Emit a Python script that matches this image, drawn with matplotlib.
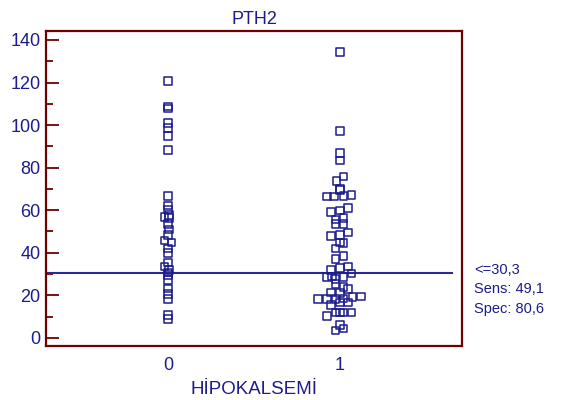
import matplotlib.pyplot as plt
import numpy as np

plt.rcParams['font.family'] = ['Liberation Sans', 'DejaVu Sans']

# group 0 (no hypocalcemia)
g0_vals = [120.7, 108.7, 107.7, 101, 98.5, 95, 88.3, 66.8, 62.3, 60.4, 57.8, 56.8, 56.2,
           53.5, 51, 48.4, 45.7, 44.8, 42.1, 39.8, 35.4, 33.5, 32, 30.8, 29.6, 27.2,
           23.3, 20.5, 18.2, 10.8, 8.8]
g0_jit = [0, 0, 0, 0, 0, 0, 0, 0, 0, 0, 0.006, -0.02, 0.006, 0, 0.006, 0, -0.02, 0.02,
          0, 0, 0, -0.02, 0.006, 0, 0, 0, 0, 0, 0, 0, 0]

# group 1 (hypocalcemia)
g1_vals = [134.2, 97.2, 87, 83.3, 75.8, 73.7, 70, 69.5, 66.4, 66.4, 66.7, 67.2,
           59.3, 59.8, 60.9, 55.7, 56.2, 53.4, 53.4, 47.9, 48.4, 49.5, 44.8, 44.5,
           42.1, 38.5, 37, 32, 32.8, 33.5, 28.5, 27.6, 28.5, 30.3, 28.8, 25.4, 23.8,
           22.9, 21.3, 21, 18.3, 18.3, 18.3, 18.6, 19.1, 19.4, 15.5, 16.6, 16.6,
           10.3, 11.9, 11.9, 11.9, 11.9, 6.1, 4.5, 3.4]
g1_jit = [0, 0, 0, 0, 0.02, -0.02, 0, 0, -0.077, -0.033, 0.02, 0.068,
          -0.052, 0, 0.048, -0.025, 0.02, -0.025, 0.02, -0.052, 0, 0.048, 0, 0.02,
          -0.025, 0.02, -0.025, -0.052, 0, 0.048, -0.077, -0.025, 0.02, 0.068, -0.045, -0.025, 0.02,
          0.048, -0.052, 0, -0.126, -0.077, -0.025, 0.02, 0.074, 0.122, -0.052, 0, 0.048,
          -0.077, -0.025, 0, 0.02, 0.068, 0, 0.02, -0.025]

cutoff = 30.3
sens = '49,1'
spec = '80,6'

navy = '#1c1c8a'
frame = '#700000'

fig = plt.figure(figsize=(5.67, 4.0), dpi=100)
ax = fig.add_axes([0.0811, 0.135, 0.7337, 0.7875])

ax.scatter(np.zeros(len(g0_vals)) + np.array(g0_jit), g0_vals, marker='s', s=30,
           facecolors='none', edgecolors=navy, linewidths=1.1, zorder=3)
ax.scatter(np.ones(len(g1_vals)) + np.array(g1_jit), g1_vals, marker='s', s=30,
           facecolors='none', edgecolors=navy, linewidths=1.1, zorder=3)

ax.plot([-0.71, 1.65], [cutoff, cutoff], color='#2a2a90', lw=1.5, zorder=2, clip_on=False)

ax.set_xlim(-0.71, 1.71)
ax.set_ylim(-3.8, 144.2)
ax.set_xticks([0, 1])
ax.set_yticks(range(0, 141, 20))
ax.set_yticks(range(10, 141, 20), minor=True)
ax.tick_params(axis='x', length=0, labelsize=13, labelcolor=navy, pad=8)
ax.tick_params(axis='y', which='major', direction='in', length=9, width=1.3,
               color=frame, labelsize=13, labelcolor=navy, pad=4)
ax.tick_params(axis='y', which='minor', direction='in', length=5, width=1.3, color=frame)

for s in ax.spines.values():
    s.set_color(frame)
    s.set_linewidth(1.6)

ax.set_title('PTH2', fontsize=13, color=navy, pad=5)
ax.set_xlabel('HİPOKALSEMİ', fontsize=13.5, color=navy, labelpad=5)

fig.text(474 / 567, 1 - 270 / 400, '<=30,3', fontsize=10.5, color=navy, va='center')
fig.text(474 / 567, 1 - 289 / 400, 'Sens: ' + sens, fontsize=10.5, color=navy, va='center')
fig.text(474 / 567, 1 - 309 / 400, 'Spec: ' + spec, fontsize=10.5, color=navy, va='center')

fig.savefig('out.png', dpi=100)
